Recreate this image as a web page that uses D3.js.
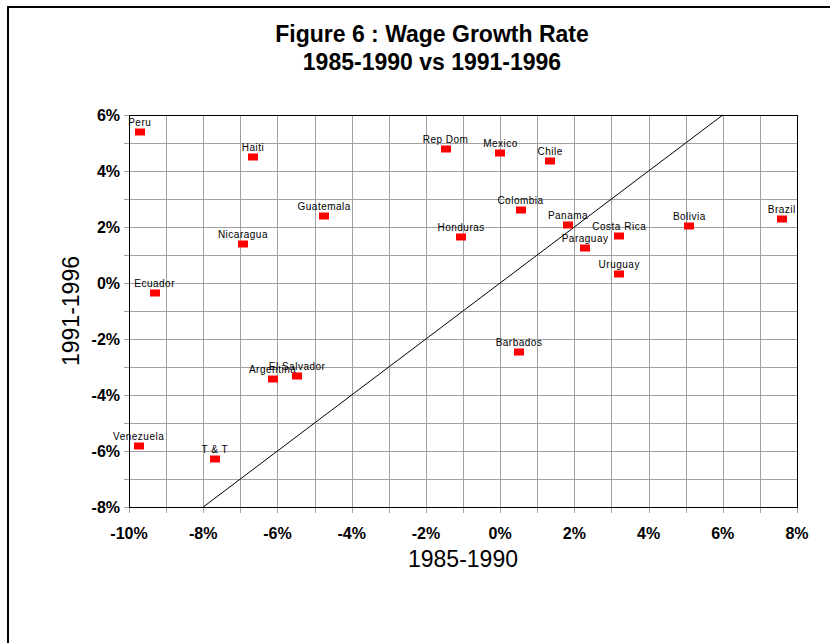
<!DOCTYPE html>
<meta charset="utf-8">
<head>
<style>
 body { margin: 0; background: #fff; }
 .grid line { stroke: #a0a0a0; stroke-width: 1px; shape-rendering: crispEdges; }
 .tick-label { font-family: "Liberation Sans", Arial, sans-serif; font-weight: bold; font-size: 16px; }
 .axis-title { font-family: "Liberation Sans", Arial, sans-serif; font-size: 23px; }
 .title { font-family: "Liberation Sans", Arial, sans-serif; font-weight: bold; font-size: 23px; }
 .pt-label { font-family: "Liberation Sans", Arial, sans-serif; font-size: 10px; letter-spacing: 0.5px; }
</style>
</head>
<body>
<svg width="830" height="643"></svg>
<script src="https://d3js.org/d3.v7.min.js"></script>
<script>
  // data (percent)
  var countries = ["Peru", "Haiti", "Guatemala", "Nicaragua", "Ecuador", "Rep Dom", "Mexico", "Chile",
                   "Colombia", "Panama", "Honduras", "Paraguay", "Costa Rica", "Bolivia", "Brazil",
                   "Uruguay", "Argentina", "El Salvador", "Venezuela", "T & T", "Barbados"];
  var growth8590 = [-9.71, -6.66, -4.74, -6.93, -9.31, -1.47, 0.01, 1.35,
                    0.55, 1.83, -1.05, 2.29, 3.21, 5.10, 7.59,
                    3.21, -6.13, -5.47, -9.74, -7.69, 0.51];
  var growth9196 = [5.38, 4.50, 2.39, 1.39, -0.35, 4.77, 4.64, 4.37,
                    2.60, 2.08, 1.64, 1.25, 1.69, 2.03, 2.27,
                    0.32, -3.42, -3.33, -5.82, -6.29, -2.46];
  var xTicks = [-10, -8, -6, -4, -2, 0, 2, 4, 6, 8];
  var yTicks = [-8, -6, -4, -2, 0, 2, 4, 6];
  var diagonal = [-8, 6];

  var svg = d3.select('svg');
  var margin = { top: 115, left: 129, bottom: 507, right: 797 };

  var x = d3.scaleLinear().domain([-10, 8]).range([margin.left, margin.right]);
  var y = d3.scaleLinear().domain([-8, 6]).range([margin.bottom, margin.top]);
  var pct = function(d) { return d + '%'; };

  // outer frame
  svg.append('rect')
      .attr('x', 8).attr('y', 7).attr('width', 840).attr('height', 660)
      .attr('fill', 'none').attr('stroke', 'black').attr('stroke-width', 2);

  // title
  var title = svg.append('text').attr('class', 'title').attr('text-anchor', 'middle');
  title.append('tspan').attr('x', 432).attr('y', 42).text('Figure 6 : Wage Growth Rate');
  title.append('tspan').attr('x', 432).attr('y', 70).text('1985-1990 vs 1991-1996');

  // grid
  var grid = svg.append('g').attr('class', 'grid');
  grid.selectAll('.vx').data(d3.range(-10, 9))
    .enter().append('line')
      .attr('x1', function(d) { return Math.round(x(d)) + 0.5; })
      .attr('x2', function(d) { return Math.round(x(d)) + 0.5; })
      .attr('y1', margin.top).attr('y2', margin.bottom + 6);
  grid.selectAll('.hy').data(d3.range(-8, 7))
    .enter().append('line')
      .attr('y1', function(d) { return Math.round(y(d)) + 0.5; })
      .attr('y2', function(d) { return Math.round(y(d)) + 0.5; })
      .attr('x1', margin.left - 5).attr('x2', margin.right);

  // frame of plot
  svg.append('rect')
      .attr('x', margin.left + 0.5).attr('y', margin.top + 0.5)
      .attr('width', margin.right - margin.left).attr('height', margin.bottom - margin.top)
      .attr('fill', 'none').attr('stroke', 'black').attr('stroke-width', 1)
      .attr('shape-rendering', 'crispEdges');

  // tick labels
  svg.selectAll('.xl').data(xTicks)
    .enter().append('text')
      .attr('class', 'tick-label')
      .attr('text-anchor', 'middle')
      .attr('x', function(d) { return x(d); })
      .attr('y', 539)
      .text(pct);
  svg.selectAll('.yl').data(yTicks)
    .enter().append('text')
      .attr('class', 'tick-label')
      .attr('text-anchor', 'end')
      .attr('x', 120)
      .attr('y', function(d) { return y(d) + 6; })
      .text(pct);

  // axis titles
  svg.append('text').attr('class', 'axis-title')
      .attr('text-anchor', 'middle')
      .attr('x', (margin.left + margin.right) / 2).attr('y', 567)
      .text('1985-1990');
  svg.append('text').attr('class', 'axis-title')
      .attr('text-anchor', 'middle')
      .attr('transform', 'translate(79,' + ((margin.top + margin.bottom) / 2) + ') rotate(-90)')
      .text('1991-1996');

  // 45 degree line
  svg.append('line')
      .attr('x1', x(diagonal[0])).attr('y1', y(diagonal[0]))
      .attr('x2', x(diagonal[1])).attr('y2', y(diagonal[1]))
      .attr('stroke', 'black').attr('stroke-width', 1);

  // points
  var pts = svg.append('g').selectAll('g').data(countries)
    .enter().append('g');
  pts.append('rect')
      .attr('x', function(d, i) { return Math.round(x(growth8590[i])) - 5; })
      .attr('y', function(d, i) { return Math.round(y(growth9196[i])) - 3.5; })
      .attr('width', 10).attr('height', 7)
      .attr('fill', '#ff0000');
  pts.append('text')
      .attr('class', 'pt-label')
      .attr('text-anchor', 'middle')
      .attr('x', function(d, i) { return x(growth8590[i]); })
      .attr('y', function(d, i) { return y(growth9196[i]) - 6; })
      .text(function(d) { return d; });
</script>
</body>
</html>
